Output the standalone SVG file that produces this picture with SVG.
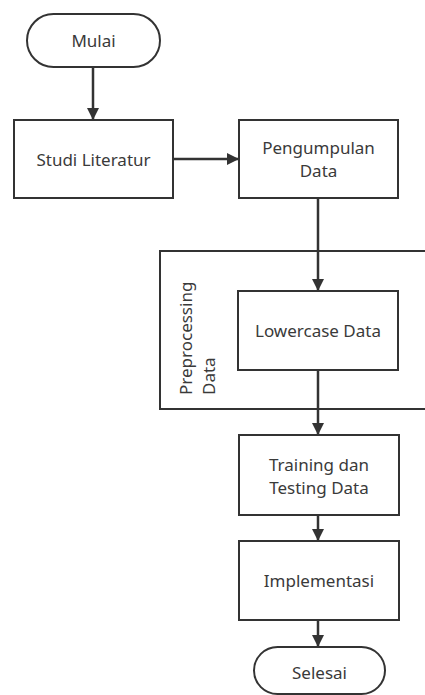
<svg xmlns="http://www.w3.org/2000/svg" width="425" height="695" viewBox="0 0 425 695">
<defs>
<marker id="ah" viewBox="0 0 12 12" markerWidth="12" markerHeight="12" refX="12" refY="6" orient="auto" markerUnits="userSpaceOnUse">
<path d="M0,0 L12,6 L0,12 Z" fill="#333"/>
</marker>
</defs>
<style>
.n{fill:#fff;stroke:#333;stroke-width:2}
.t{font-family:"Noto Sans","Open Sans",sans-serif;font-size:17px;fill:#3a3a3a;text-anchor:middle}
.c{fill:none;stroke:#333;stroke-width:2.5;marker-end:url(#ah)}
</style>
<rect width="425" height="695" fill="#fff"/>
<g id="group-preprocessing">
<rect x="160" y="251" width="275" height="158" fill="#fff" stroke="#333" stroke-width="2"/>
<text class="t" style="text-anchor:start" transform="translate(192,395) rotate(-90)">Preprocessing</text>
<text class="t" style="text-anchor:start" transform="translate(215,395) rotate(-90)">Data</text>
</g>
<g id="connectors">
<line class="c" x1="93" y1="67" x2="93" y2="120"/>
<line class="c" x1="173" y1="159" x2="239" y2="159"/>
<line class="c" x1="318" y1="198" x2="318" y2="291"/>
<line class="c" x1="318" y1="370" x2="318" y2="435"/>
<line class="c" x1="318" y1="515" x2="318" y2="541"/>
<line class="c" x1="318" y1="620" x2="318" y2="647"/>
</g>
<g id="mulai">
<rect class="n" x="27" y="14" width="133" height="53" rx="26.5"/>
<text class="t" x="93.5" y="47">Mulai</text>
</g>
<g id="studi-literatur">
<rect class="n" x="14" y="120" width="159" height="78"/>
<text class="t" x="93.5" y="166">Studi Literatur</text>
</g>
<g id="pengumpulan-data">
<rect class="n" x="239" y="120" width="159" height="78"/>
<text class="t" x="318.5" y="154">Pengumpulan</text>
<text class="t" x="318.5" y="177">Data</text>
</g>
<g id="lowercase-data">
<rect class="n" x="238" y="291" width="160" height="79"/>
<text class="t" x="318" y="337">Lowercase Data</text>
</g>
<g id="training-testing">
<rect class="n" x="239" y="435" width="160" height="80"/>
<text class="t" x="319" y="471">Training dan</text>
<text class="t" x="319" y="494">Testing Data</text>
</g>
<g id="implementasi">
<rect class="n" x="239" y="541" width="160" height="79"/>
<text class="t" x="319" y="587">Implementasi</text>
</g>
<g id="selesai">
<rect class="n" x="254" y="647" width="131" height="47" rx="23.5"/>
<text class="t" x="319.5" y="679">Selesai</text>
</g>
</svg>
